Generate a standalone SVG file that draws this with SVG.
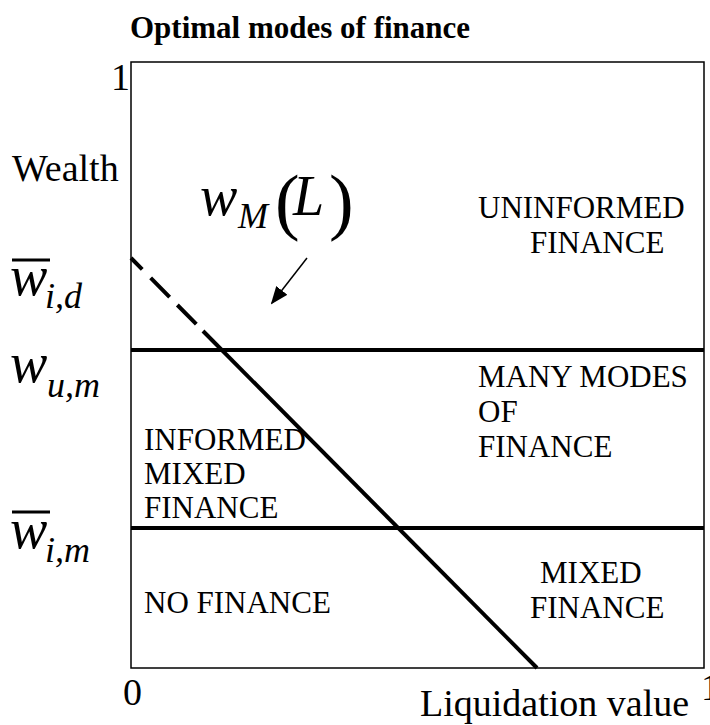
<svg xmlns="http://www.w3.org/2000/svg" width="710" height="725" viewBox="0 0 710 725">
<style>
.t{font-family:"Liberation Serif","Times New Roman",serif;fill:#000}
.lbl{font-size:31px}
.big{font-size:38px}
.math{font-size:56px;font-style:italic}
.sub{font-size:36px;font-style:italic}
.thick{stroke:#000;stroke-width:4;fill:none}
.thin{stroke:#000;stroke-width:1.5;fill:none}
</style>
<defs>
<marker id="ah2" markerWidth="18" markerHeight="14" refX="16" refY="7" orient="auto" markerUnits="userSpaceOnUse" viewBox="0 0 18 14">
<path d="M0,0 L18,7 L0,14 z" fill="#000"/>
</marker>
</defs>
<text class="t" x="130" y="38" font-weight="bold" font-size="31">Optimal modes of finance</text>
<g id="frame">
<rect x="131" y="62" width="573" height="606" class="thin"/>
</g>
<g id="axis-labels">
<text class="t big" x="111" y="90">1</text>
<text class="t big" x="123" y="705">0</text>
<text class="t big" x="701" y="700">1</text>
<text class="t big" x="420" y="716">Liquidation value</text>
<text class="t big" x="12" y="181">Wealth</text>
</g>
<g id="y-ticks">
<line x1="12" y1="260" x2="50" y2="260" stroke="#000" stroke-width="3"/>
<text class="t math" x="10" y="295">w</text>
<text class="t sub" x="45" y="308">i,d</text>
<text class="t math" x="10" y="382">w</text>
<text class="t sub" x="47" y="397">u,m</text>
<line x1="12" y1="512" x2="50" y2="512" stroke="#000" stroke-width="3"/>
<text class="t math" x="10" y="548">w</text>
<text class="t sub" x="45" y="562">i,m</text>
</g>
<g id="connectors">
<line x1="131" y1="350" x2="704" y2="350" class="thick"/>
<line x1="131" y1="528" x2="704" y2="528" class="thick"/>
<line x1="131" y1="258" x2="203" y2="331" class="thick" stroke-dasharray="16,12,27,11,27,11,27,11"/>
<line x1="203" y1="331" x2="537" y2="668" class="thick"/>
<line x1="307" y1="258" x2="272" y2="303" class="thin" marker-end="url(#ah2)"/>
</g>
<g id="curve-label">
<text class="t math" x="200" y="215">w</text>
<text class="t sub" x="238" y="228">M</text>
<text class="t" x="275" y="226" font-size="74">(</text>
<text class="t math" x="293" y="215">L</text>
<text class="t" x="329" y="226" font-size="74">)</text>
</g>
<g id="region-uninformed">
<text class="t lbl" x="478" y="218">UNINFORMED</text>
<text class="t lbl" x="530" y="253">FINANCE</text>
</g>
<g id="region-many">
<text class="t lbl" x="478" y="387">MANY MODES</text>
<text class="t lbl" x="478" y="422">OF</text>
<text class="t lbl" x="478" y="457">FINANCE</text>
</g>
<g id="region-informed">
<text class="t lbl" x="144" y="450">INFORMED</text>
<text class="t lbl" x="144" y="484">MIXED</text>
<text class="t lbl" x="144" y="518">FINANCE</text>
</g>
<g id="region-mixed">
<text class="t lbl" x="540" y="583">MIXED</text>
<text class="t lbl" x="530" y="618">FINANCE</text>
</g>
<g id="region-none">
<text class="t lbl" x="144" y="613">NO FINANCE</text>
</g>
</svg>
